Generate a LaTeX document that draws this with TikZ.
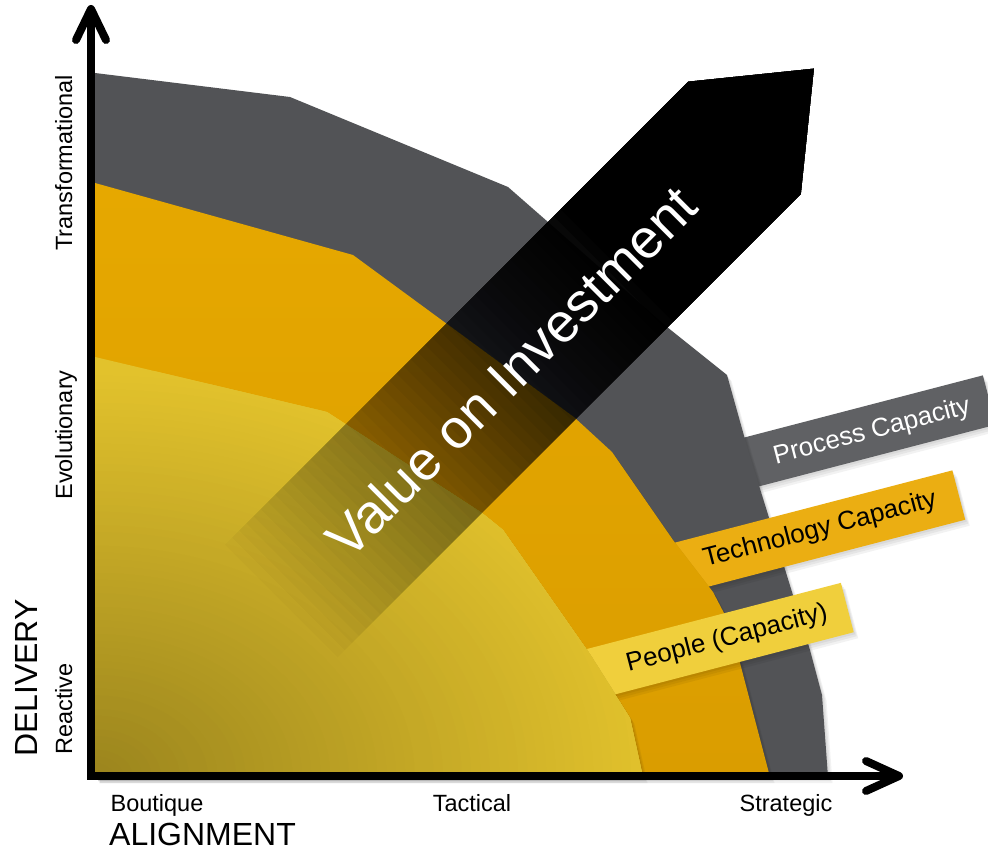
\documentclass[tikz,border=0pt]{standalone}
\usepackage{fontspec}
\setmainfont{Liberation Sans}
\usetikzlibrary{shadows}
\definecolor{procgray}{HTML}{525356}
\definecolor{procband}{HTML}{606164}
\definecolor{techhi}{HTML}{E6A800}
\definecolor{techlo}{HTML}{DA9D00}
\definecolor{techband}{HTML}{EBAE12}
\definecolor{pplband}{HTML}{F0CF3C}
\definecolor{ylo}{HTML}{9A841D}
\definecolor{yhi}{HTML}{E2C22C}

\begin{document}
\begin{tikzpicture}[x=1pt,y=-1pt,
  softshadow/.style={
    general shadow={fill=black, opacity=0.05, shadow xshift=1.5pt, shadow yshift=-2pt},
    general shadow={fill=black, opacity=0.05, shadow xshift=3pt, shadow yshift=-4pt},
    general shadow={fill=black, opacity=0.05, shadow xshift=4.5pt, shadow yshift=-6pt}},
  bandbox/.style={rectangle, rotate=14.6, anchor=east, minimum height=51, inner sep=0pt, draw=none, softshadow},
  lbl/.style={rotate=14.6, inner sep=0pt, font=\fontsize{26}{30}\selectfont},
  axislbl/.style={inner sep=0pt, font=\fontsize{23.5}{28}\selectfont},
  biglbl/.style={inner sep=0pt, font=\fontsize{32}{36}\selectfont},
  axisline/.style={line width=8pt, black, line join=miter},
  axishead/.style={line width=8pt, black, line cap=round, line join=round},
  axisshadow/.style={line width=8pt, black, opacity=0.08}]
\useasboundingbox[fill=white] (0,0) rectangle (988,850);

% process band (behind gray region)
\node[bandbox, fill=procband, minimum width=300] (pband) at (989.5,400) {};
% gray region
\fill[procgray, softshadow] (95,73) -- (290,97) -- (508,187) -- (548,222) -- (667,327) -- (727,375)
  -- (748,450) -- (810,650) -- (822,695) -- (828,777) -- (95,777) -- cycle;
% technology band
\node[bandbox, fill=techband, minimum width=300] (tband) at (959,495) {};
% orange region
\shade[top color=techhi, bottom color=techlo, softshadow] (95,183) -- (353,255) -- (575,418) -- (612,452)
  -- (673,540) -- (713,592) -- (725,615) -- (740,663) -- (770,777) -- (95,777) -- cycle;
% people band
\node[bandbox, fill=pplband, minimum width=280] (yband) at (847.5,607.5) {};
% yellow region
\def\yellowpath{(95,357) -- (327,412) -- (350,427) -- (482,513) -- (503,530) -- (587,650) -- (630,718)
  -- (643,777) -- (95,777) -- cycle}
\fill[yhi, softshadow] \yellowpath;
\begin{scope}
  \clip \yellowpath;
  \foreach \i in {60,...,1}{
    \pgfmathtruncatemacro\p{100-100*\i/60}
    \fill[ylo!\p!yhi] (95,777) ellipse [x radius=9.4*\i, y radius=6.8*\i];
  }
\end{scope}

% value on investment arrow (opacity rising toward the head)
\begin{scope}[shift={(0,850)}, rotate=45]
  \foreach \k in {1,...,48}{
    \pgfmathsetmacro\ua{375+10.1*(\k-1)}
    \pgfmathsetmacro\al{1/(49-\k)}
    \fill[black, fill opacity=\al] (\ua,-56.6) -- (1030,-56.6) -- (1128,23) -- (1030,102.5)
      -- (\ua,102.5) -- cycle;
  }
\end{scope}
\node[rotate=45, text=white, inner sep=0pt, font=\fontsize{55}{60}\selectfont] (voi) at (511,372) {Value on Investment};

% axes
\coordinate (O) at (91,776);
\coordinate (ytip) at (91,9);
\coordinate (xtip) at (899,776);
\draw[axisshadow, shift={(2,4)}] (ytip) -- (O) -- (xtip);
\draw[axisshadow, shift={(3,6)}] (ytip) -- (O) -- (xtip);
\draw[axisline] (ytip) -- (O) -- (xtip);
\draw[axishead] (ytip) ++(-15,31) -- (ytip) -- ++(15,31);
\draw[axishead] (xtip) ++(-33,-15) -- (xtip) -- ++(-33,15);

% band labels
\node[lbl, text=white] (ptxt) at (872,432) {Process Capacity};
\node[lbl, text=black] (ttxt) at (820,530) {Technology Capacity};
\node[lbl, text=black] (ytxt) at (727,639) {People (Capacity)};

% axis labels
\node[axislbl, rotate=90, anchor=base] (trans) at (72,163) {Transformational};
\node[axislbl, rotate=90, anchor=base] (evol) at (72,435) {Evolutionary};
\node[axislbl, rotate=90, anchor=base] (react) at (72,709) {Reactive};
\node[biglbl, rotate=90, anchor=base] (deliv) at (37,678) {DELIVERY};
\node[axislbl, anchor=base] (bout) at (157,811) {Boutique};
\node[axislbl, anchor=base] (tact) at (472,811) {Tactical};
\node[axislbl, anchor=base] (strat) at (786,811) {Strategic};
\node[biglbl, anchor=base west] (align) at (109,845) {ALIGNMENT};
\end{tikzpicture}
\end{document}
